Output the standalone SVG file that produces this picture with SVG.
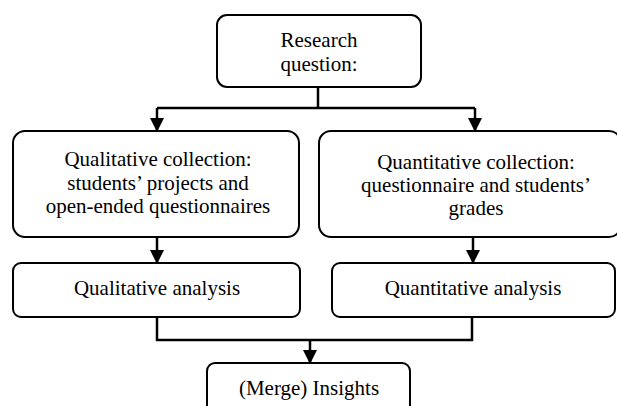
<svg xmlns="http://www.w3.org/2000/svg" width="617" height="406" viewBox="0 0 617 406">
<defs>
<marker id="arr" markerUnits="userSpaceOnUse" markerWidth="14" markerHeight="14" viewBox="0 0 14 14" refX="13" refY="7" orient="auto">
<path d="M0,0 L14,7 L0,14 Z" fill="#000"/>
</marker>
</defs>
<style>
.box{fill:#fff;stroke:#000;stroke-width:2}
.t{font-size:21px;fill:#000;text-anchor:middle}
.c{fill:none;stroke:#000;stroke-width:2.5}
</style>
<rect width="617" height="406" fill="#fff"/>
<g font-family="'Liberation Serif', 'Times New Roman', 'DejaVu Serif', serif">
<g id="n1">
<rect class="box" x="217" y="15" width="204" height="72" rx="10"/>
<text class="t" x="319" y="47">Research</text>
<text class="t" x="319" y="71">question:</text>
</g>
<g id="n2">
<rect class="box" x="13" y="131" width="286" height="106" rx="12"/>
<text class="t" x="158" y="166">Qualitative collection:</text>
<text class="t" x="158" y="190">students’ projects and</text>
<text class="t" x="158" y="213">open-ended questionnaires</text>
</g>
<g id="n3">
<rect class="box" x="319" y="131" width="302" height="106" rx="12"/>
<text class="t" x="476" y="169">Quantitative collection:</text>
<text class="t" x="476" y="192">questionnaire and students’</text>
<text class="t" x="476" y="215">grades</text>
</g>
<g id="n4">
<rect class="box" x="13" y="263" width="287" height="54" rx="8"/>
<text class="t" x="157" y="295">Qualitative analysis</text>
</g>
<g id="n5">
<rect class="box" x="332" y="263" width="283" height="54" rx="8"/>
<text class="t" x="473" y="295">Quantitative analysis</text>
</g>
<g id="n6">
<rect class="box" x="207" y="363" width="203" height="60" rx="8"/>
<text class="t" x="309" y="395">(Merge) Insights</text>
</g>
</g>
<g id="connectors">
<path class="c" d="M318,87 V108 M157,108 H475"/>
<path class="c" d="M157,108 V131" marker-end="url(#arr)"/>
<path class="c" d="M475,108 V131" marker-end="url(#arr)"/>
<path class="c" d="M157,237 V263" marker-end="url(#arr)"/>
<path class="c" d="M473,237 V263" marker-end="url(#arr)"/>
<path class="c" d="M157,317 V340 H472 V317"/>
<path class="c" d="M310,340 V363" marker-end="url(#arr)"/>
</g>
</svg>
